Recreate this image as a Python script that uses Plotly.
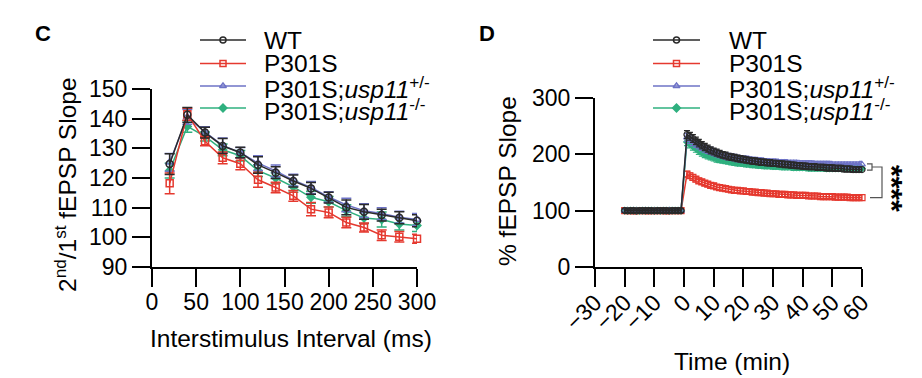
import plotly.graph_objects as go

# ---------------- DATA ----------------
# Panel C: paired-pulse ratio
isi_ms = [20, 40, 60, 80, 100, 120, 140, 160, 180, 200, 220, 240, 260, 280, 300]
c_wt = [124.7, 141.3, 135.3, 130.8, 128.6, 124.4, 121.8, 119.0, 116.5, 113.4, 110.1, 108.6, 107.5, 106.6, 105.6]
c_wt_err = [3.5, 2.5, 1.8, 2.5, 1.8, 2.8, 2.0, 2.0, 2.0, 1.8, 2.5, 2.5, 2.0, 2.0, 2.0]
c_p301s = [118.2, 141.5, 132.4, 126.8, 124.8, 119.4, 116.8, 114.0, 109.5, 108.4, 105.0, 103.3, 100.7, 100.2, 99.5]
c_p301s_err = [3.5, 2.0, 1.5, 2.0, 2.0, 2.5, 1.8, 1.8, 2.2, 1.8, 1.8, 1.5, 1.8, 1.8, 1.5]
c_het = [125.3, 140.6, 135.5, 131.0, 128.5, 125.0, 122.4, 119.3, 116.8, 113.6, 110.9, 109.0, 108.0, 106.8, 106.0]
c_het_err = [3.0, 2.5, 1.8, 2.5, 1.8, 2.5, 2.0, 2.0, 2.0, 1.8, 2.3, 2.3, 2.0, 2.0, 2.0]
c_ko = [122.5, 137.4, 134.0, 129.5, 127.5, 122.5, 120.0, 117.0, 113.5, 112.0, 109.0, 106.5, 106.0, 104.5, 104.0]
c_ko_err = [2.5, 2.0, 1.5, 2.0, 1.8, 2.0, 1.8, 1.8, 2.0, 1.8, 2.0, 1.8, 2.5, 2.0, 2.0]

# Panel D: LTP time course
time_min = [-20, -19, -18, -17, -16, -15, -14, -13, -12, -11, -10, -9, -8, -7, -6, -5, -4, -3, -2, -1,
            1, 2, 3, 4, 5, 6, 7, 8, 9, 10, 11, 12, 13, 14, 15, 16, 17, 18, 19, 20,
            21, 22, 23, 24, 25, 26, 27, 28, 29, 30, 31, 32, 33, 34, 35, 36, 37, 38, 39, 40,
            41, 42, 43, 44, 45, 46, 47, 48, 49, 50, 51, 52, 53, 54, 55, 56, 57, 58, 59, 60]
d_wt = [100.2, 99.8, 100.1, 100.0, 99.7, 100.3, 100.0, 99.9, 100.2, 100.1, 99.8, 100.0, 100.2, 99.9, 100.1, 99.8, 100.0, 100.2, 99.9, 100.1,
        235, 232, 228, 224, 220, 216, 213, 210, 207, 205, 203, 201, 199, 198, 196, 195, 194, 193, 192, 191,
        190, 189, 188, 188, 187, 186, 186, 185, 185, 184, 184, 183, 183, 182, 182, 181, 181, 180, 180, 179,
        179, 178, 178, 178, 177, 177, 177, 176, 176, 176, 175, 175, 175, 174, 174, 174, 173, 173, 173, 173]
d_p301s = [99.9, 100.1, 100.2, 99.8, 100.0, 100.1, 99.9, 100.2, 99.8, 100.0, 100.1, 99.9, 100.0, 100.2, 99.8, 100.1, 100.0, 99.9, 100.1, 100.0,
           165, 162, 159, 156, 153, 151, 149, 147, 145, 144, 142, 141, 140, 139, 138, 137, 136, 136, 135, 135,
           134, 134, 133, 133, 132, 132, 131, 131, 130, 130, 130, 129, 129, 129, 128, 128, 128, 127, 127, 127,
           127, 126, 126, 126, 126, 125, 125, 125, 125, 125, 124, 124, 124, 124, 124, 123, 123, 123, 123, 123]
d_het = [100.1, 100.0, 99.8, 100.2, 100.1, 99.9, 100.0, 100.2, 99.9, 100.1, 100.0, 99.8, 100.1, 100.0, 99.9, 100.2, 100.1, 99.8, 100.0, 100.1,
         230, 226, 222, 219, 216, 213, 210, 208, 206, 204, 202, 200, 199, 197, 196, 195, 194, 193, 192, 191,
         191, 190, 189, 189, 188, 188, 187, 187, 186, 186, 186, 185, 185, 185, 184, 184, 184, 184, 183, 183,
         183, 183, 183, 182, 182, 182, 182, 182, 182, 181, 181, 181, 181, 181, 181, 181, 181, 181, 181, 182]
d_ko = [100.0, 100.1, 99.9, 100.0, 100.2, 99.8, 100.1, 100.0, 99.9, 100.2, 100.0, 100.1, 99.8, 100.0, 100.2, 99.9, 100.1, 100.0, 100.2, 99.9,
        222, 218, 214, 210, 206, 203, 200, 198, 196, 194, 192, 191, 190, 189, 188, 187, 186, 185, 185, 184,
        183, 183, 182, 182, 181, 181, 180, 180, 180, 179, 179, 179, 178, 178, 178, 178, 177, 177, 177, 177,
        177, 176, 176, 176, 176, 176, 176, 175, 175, 175, 175, 175, 175, 175, 175, 175, 175, 175, 175, 175]

# Legend / tick labels
series_names = ["WT", "P301S", "P301S;<i>usp11</i><sup>+/-</sup>", "P301S;<i>usp11</i><sup>-/-</sup>"]
c_xticks = [0, 50, 100, 150, 200, 250, 300]
c_yticks = [90, 100, 110, 120, 130, 140, 150]
d_xticks = [-30, -20, -10, 0, 10, 20, 30, 40, 50, 60]
d_yticks = [0, 100, 200, 300]

# ---------------- STYLE / LAYOUT ----------------
OFF = 8                      # page body margin of the browser
WIN_W, WIN_H = 922, 378
W, H = WIN_W - OFF, WIN_H - OFF
FONT = "Arial, Liberation Sans, sans-serif"
colors = ["#2a2a2a", "#e5392f", "#6e73c6", "#2fb07f"]
symbols = ["circle-open", "square-open", "triangle-up-open", "diamond"]


def px(xp):
    return (xp - OFF) / W


def py(yp):
    return 1 - (yp - OFF) / H


fig = go.Figure()

# panel C traces (draw order: green, blue, red, WT)
c_series = [(c_wt, c_wt_err), (c_p301s, c_p301s_err), (c_het, c_het_err), (c_ko, c_ko_err)]
for i in [3, 2, 1, 0]:
    vals, err = c_series[i]
    fig.add_trace(go.Scatter(
        x=isi_ms, y=vals, mode="lines+markers", xaxis="x", yaxis="y",
        line=dict(color=colors[i], width=1.5),
        marker=dict(symbol=symbols[i], size=7 if i != 3 else 6, color=colors[i], line=dict(width=1.5, color=colors[i])),
        error_y=dict(type="data", array=err, color=colors[i], thickness=1.5, width=5),
        showlegend=False, cliponaxis=False))

# panel D traces
d_series = [d_wt, d_p301s, d_het, d_ko]
for i in [1, 3, 2, 0]:
    fig.add_trace(go.Scatter(
        x=time_min, y=d_series[i], mode="lines+markers", xaxis="x2", yaxis="y2",
        line=dict(color=colors[i], width=1.5),
        marker=dict(symbol=symbols[i], size=6 if i != 3 else 5, color=colors[i], line=dict(width=1.2, color=colors[i])),
        error_y=dict(type="percent", value=3, color=colors[i], thickness=1.2, width=3),
        showlegend=False, cliponaxis=False))

# manual legends on a pixel overlay axis (x3/y3 are in window pixels)
legend_rows = [40, 63.5, 86, 108]
for (lx0, lx1, tx) in [(200, 246, 262), (653, 700, 727)]:
    for i in range(4):
        fig.add_trace(go.Scatter(
            x=[lx0, lx1], y=[legend_rows[i]] * 2, mode="lines",
            xaxis="x3", yaxis="y3", line=dict(color=colors[i], width=1.5),
            showlegend=False, hoverinfo="skip"))
        fig.add_trace(go.Scatter(
            x=[(lx0 + lx1) / 2], y=[legend_rows[i]], mode="markers",
            xaxis="x3", yaxis="y3",
            marker=dict(symbol=symbols[i], size=6, color=colors[i], line=dict(width=1.5, color=colors[i])),
            showlegend=False, hoverinfo="skip"))
        fig.add_annotation(x=tx, y=legend_rows[i], xref="x3", yref="y3", text=series_names[i],
                           showarrow=False, xanchor="left", yanchor="middle",
                           yshift=-1 if i >= 2 else 0,
                           font=dict(size=24.5, family=FONT, color="black"))

axis_common = dict(showline=True, linecolor="black", linewidth=2, ticks="outside", ticklen=18,
                   tickwidth=2, tickcolor="black", showgrid=False, zeroline=False,
                   tickfont=dict(size=23, family=FONT, color="black"), automargin=False, fixedrange=True)

fig.update_layout(
    width=W, height=H, margin=dict(l=0, r=0, t=0, b=0),
    paper_bgcolor="white", plot_bgcolor="rgba(0,0,0,0)",
    xaxis=dict(domain=[px(152), px(417)], range=[0, 300], tickvals=c_xticks, anchor="y",
               ticklabelstandoff=-5, **axis_common),
    yaxis=dict(domain=[py(267), py(89)], range=[90, 150], tickvals=c_yticks, anchor="x", **axis_common),
    xaxis2=dict(domain=[px(595), px(862)], range=[-30, 60], tickvals=d_xticks, tickangle=-45, anchor="y2",
                ticklabelstandoff=-7, **axis_common),
    yaxis2=dict(domain=[py(267), py(98)], range=[0, 300], tickvals=d_yticks, anchor="x2", **axis_common),
    xaxis3=dict(domain=[0, 1], range=[OFF, WIN_W], visible=False, anchor="y3", fixedrange=True),
    yaxis3=dict(domain=[0, 1], range=[WIN_H, OFF], visible=False, anchor="x3", fixedrange=True),
)

# axis titles and panel labels
title_font = dict(size=24.5, family=FONT, color="black")
fig.add_annotation(x=65, y=185, xref="x3", yref="y3", text="2<sup>nd</sup>/1<sup>st</sup> fEPSP Slope",
                   textangle=-90, showarrow=False, font=title_font)
fig.add_annotation(x=291, y=338, xref="x3", yref="y3", text="Interstimulus Interval (ms)",
                   showarrow=False, font=title_font)
fig.add_annotation(x=507, y=181, xref="x3", yref="y3", text="% fEPSP Slope",
                   textangle=-90, showarrow=False, font=title_font)
fig.add_annotation(x=732, y=361, xref="x3", yref="y3", text="Time (min)",
                   showarrow=False, font=title_font)
fig.add_annotation(x=43, y=33, xref="x3", yref="y3", text="<b>C</b>", showarrow=False,
                   font=dict(size=22, family=FONT, color="black"))
fig.add_annotation(x=487, y=33, xref="x3", yref="y3", text="<b>D</b>", showarrow=False,
                   font=dict(size=22, family=FONT, color="black"))

# significance bracket and stars
fig.add_shape(type="path", xref="x3", yref="y2",
              path="M 867 183 L 872 183 L 872 172 L 867 172", line=dict(color="#555", width=1.2))
fig.add_shape(type="path", xref="x3", yref="y2",
              path="M 872 177.5 L 882 177.5 L 882 123 L 870 123", line=dict(color="#555", width=1.2))
fig.add_annotation(x=893, y=188, xref="x3", yref="y3", text="<b>****</b>", textangle=90,
                   showarrow=False, xanchor="center", yanchor="middle",
                   font=dict(size=30, family=FONT, color="black"))

fig.write_html("out.html")
